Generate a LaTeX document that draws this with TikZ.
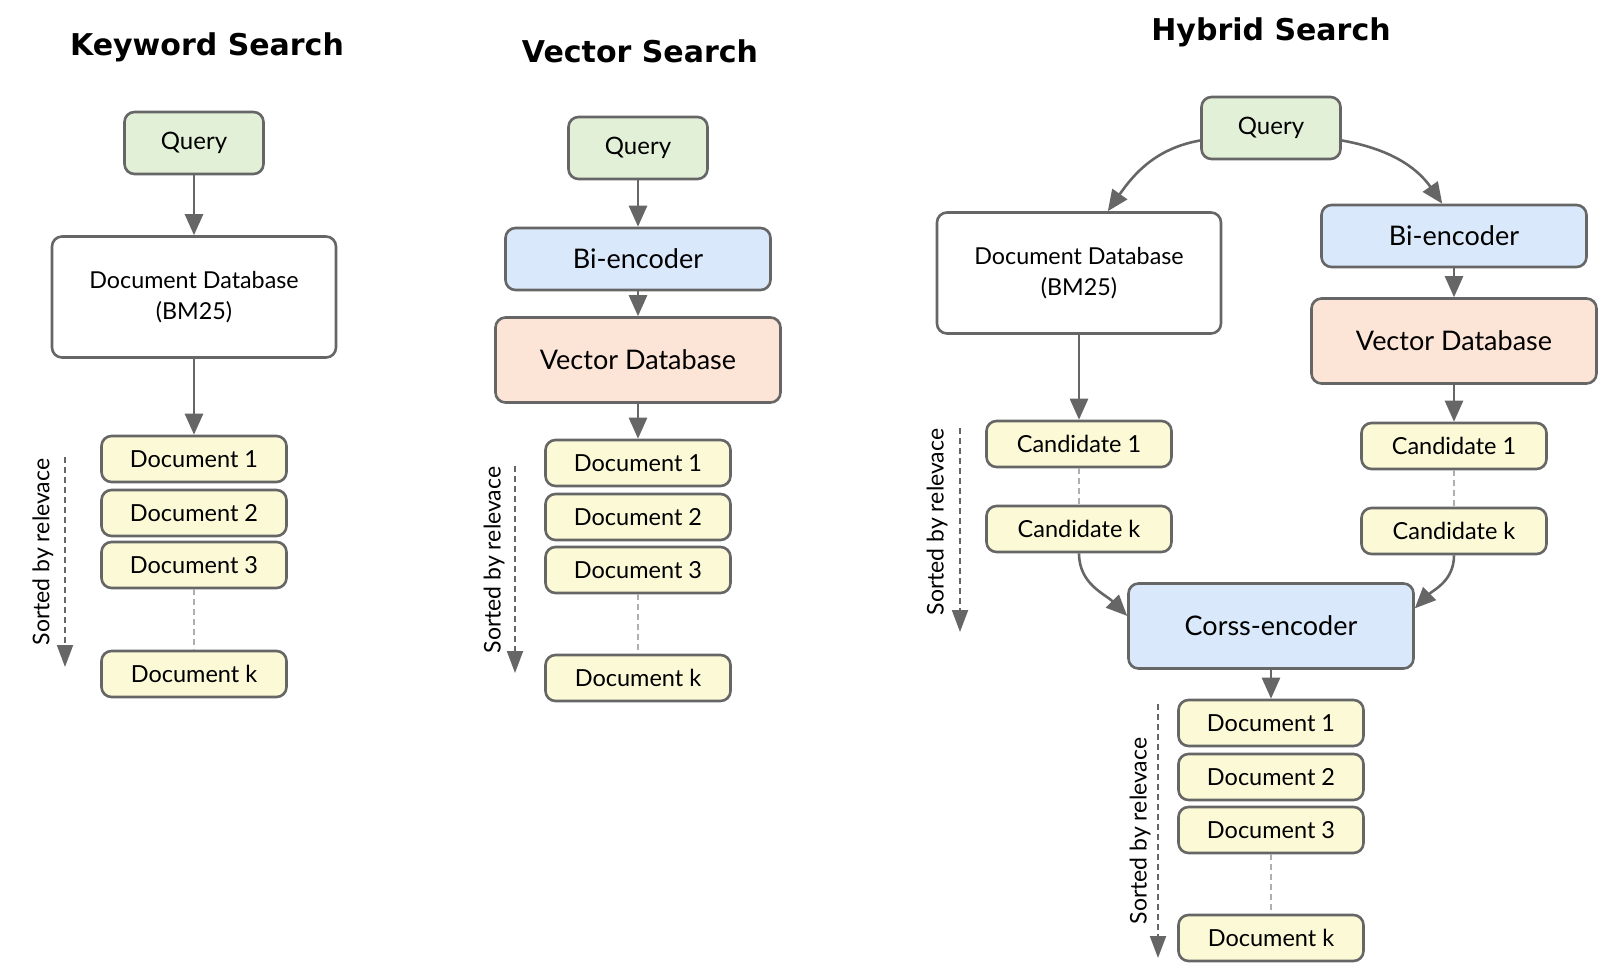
\documentclass[tikz,border=0pt]{standalone}
\usepackage{fontspec}
\setmainfont{Lato}
\newfontfamily\titlefont{DejaVu Sans}
\usetikzlibrary{arrows.meta,positioning,shapes}

\definecolor{edgegray}{RGB}{102,102,102}
\definecolor{dashgray}{RGB}{175,175,175}
\definecolor{qgreen}{RGB}{226,240,216}
\definecolor{encblue}{RGB}{218,232,251}
\definecolor{dborange}{RGB}{252,228,214}
\definecolor{docyellow}{RGB}{251,249,214}

\tikzset{
    box/.style={draw=edgegray, line width=2.6pt, rounded corners=10pt, align=center, inner sep=0pt},
    querybox/.style={box, fill=qgreen, minimum width=139pt, minimum height=62pt, font=\fontsize{24}{28}\selectfont},
    dbbox/.style={box, fill=white, minimum width=284pt, minimum height=121pt, font=\fontsize{23.3}{31}\selectfont},
    encbox/.style={box, fill=encblue, minimum width=265pt, minimum height=62pt, font=\fontsize{27}{32}\selectfont},
    vdbbox/.style={box, fill=dborange, minimum width=285pt, minimum height=85pt, font=\fontsize{27}{32}\selectfont},
    docbox/.style={box, fill=docyellow, minimum width=185pt, minimum height=46pt, font=\fontsize{23.5}{28}\selectfont},
    title/.style={font=\titlefont\bfseries\fontsize{30}{34}\selectfont},
    sortlabel/.style={rotate=90, font=\fontsize{23}{27}\selectfont},
    conn/.style={draw=edgegray, line width=2.6pt, -{Triangle[length=21pt,width=18pt]}},
    gap/.style={draw=dashgray, line width=2pt, dash pattern=on 6pt off 4pt},
    sortarrow/.style={draw=edgegray, line width=2pt, dash pattern=on 6pt off 4pt, -{Triangle[length=22pt,width=16pt]}}
}

\begin{document}
\begin{tikzpicture}[x=1pt,y=1pt]
    \useasboundingbox (0,0) rectangle (1599,-964);

    % keyword search
    \node[title] (kwtitle) at (207,-47) {Keyword Search};
    \node[querybox] (kwq) at (194,-143) {Query};
    \node[dbbox] (kwdb) at (194,-297) {Document Database\\(BM25)};
    \node[docbox] (kwd1) at (194,-459) {Document 1};
    \node[docbox] (kwd2) at (194,-513) {Document 2};
    \node[docbox] (kwd3) at (194,-565) {Document 3};
    \node[docbox] (kwdk) at (194,-674) {Document k};
    \draw[conn] (kwq) -- (kwdb);
    \draw[conn] (kwdb) -- (kwd1);
    \draw[gap] (kwd3) -- (kwdk);
    \coordinate (kws) at (65,-457);
    \coordinate (kwe) at (65,-667);
    \draw[sortarrow] (kws) -- (kwe);
    \node[sortlabel] (kwsort) at (43,-552) {Sorted by relevace};

    % vector search
    \node[title] (vtitle) at (640,-51) {Vector Search};
    \node[querybox] (vq) at (638,-148) {Query};
    \node[encbox] (venc) at (638,-259) {Bi-encoder};
    \node[vdbbox] (vdb) at (638,-360) {Vector Database};
    \node[docbox] (vd1) at (638,-463) {Document 1};
    \node[docbox] (vd2) at (638,-517) {Document 2};
    \node[docbox] (vd3) at (638,-570) {Document 3};
    \node[docbox] (vdk) at (638,-678) {Document k};
    \draw[conn] (vq) -- (venc);
    \draw[conn] (venc) -- (vdb);
    \draw[conn] (vdb) -- (vd1);
    \draw[gap] (vd3) -- (vdk);
    \coordinate (vs) at (515,-466);
    \coordinate (ve) at (515,-673);
    \draw[sortarrow] (vs) -- (ve);
    \node[sortlabel] (vsort) at (494,-560) {Sorted by relevace};

    % hybrid search
    \node[title] (htitle) at (1271,-32) {Hybrid Search};
    \node[querybox] (hq) at (1271,-128) {Query};
    \node[dbbox] (hdb) at (1079,-273) {Document Database\\(BM25)};
    \node[encbox] (henc) at (1454,-236) {Bi-encoder};
    \node[vdbbox] (hvdb) at (1454,-341) {Vector Database};
    \node[docbox] (hc1l) at (1079,-444) {Candidate 1};
    \node[docbox] (hckl) at (1079,-529) {Candidate k};
    \node[docbox] (hc1r) at (1454,-446) {Candidate 1};
    \node[docbox] (hckr) at (1454,-531) {Candidate k};
    \node[vdbbox, fill=encblue] (hce) at (1271,-626) {Corss-encoder};
    \node[docbox] (hd1) at (1271,-723) {Document 1};
    \node[docbox] (hd2) at (1271,-777) {Document 2};
    \node[docbox] (hd3) at (1271,-830) {Document 3};
    \node[docbox] (hdk) at (1271,-938) {Document k};
    \draw[conn] (hq.190) to[out=190,in=55] (hdb.65);
    \draw[conn] (hq.350) to[out=-10,in=125] (henc.110);
    \draw[conn] (henc) -- (hvdb);
    \draw[conn] (hdb) -- (hc1l);
    \draw[conn] (hvdb) -- (hc1r);
    \draw[gap] (hc1l) -- (hckl);
    \draw[gap] (hc1r) -- (hckr);
    \draw[conn] (hckl.south) to[out=-90,in=135] (hce.176);
    \draw[conn] (hckr.south) to[out=-90,in=45] (hce.7);
    \draw[conn] (hce) -- (hd1);
    \draw[gap] (hd3) -- (hdk);
    \coordinate (hls) at (960,-428);
    \coordinate (hle) at (960,-632);
    \draw[sortarrow] (hls) -- (hle);
    \node[sortlabel] (hlsort) at (937,-522) {Sorted by relevace};
    \coordinate (hbs) at (1158,-704);
    \coordinate (hbe) at (1158,-958);
    \draw[sortarrow] (hbs) -- (hbe);
    \node[sortlabel] (hbsort) at (1140,-831) {Sorted by relevace};
\end{tikzpicture}
\end{document}
